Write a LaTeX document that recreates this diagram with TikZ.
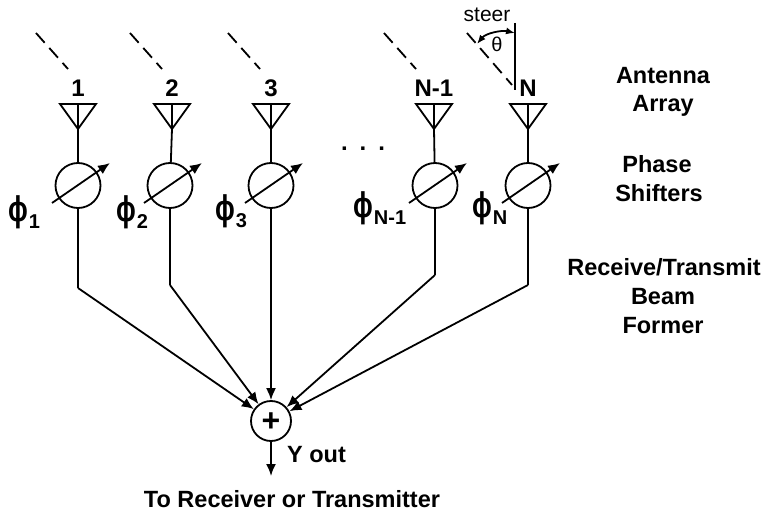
\documentclass[tikz,border=0pt]{standalone}
\usepackage{fontspec}
\setmainfont{Liberation Sans}
\usetikzlibrary{arrows.meta}

\tikzset{
    wire/.style={line width=1.8pt},
    tipped/.style={wire, -{Latex[length=12pt,width=10pt]}},
    shifter/.style={circle, draw, line width=1.8pt, minimum size=45pt, inner sep=0pt},
    summer/.style={circle, draw, line width=1.8pt, minimum size=40pt, inner sep=0pt},
    biglabel/.style={font=\fontsize{24}{26}\selectfont\bfseries, anchor=base},
    sidelabel/.style={font=\fontsize{23.5}{26}\selectfont\bfseries, anchor=base},
    wavefront/.style={wire, dash pattern=on 13pt off 7pt},
    philabel/.style={anchor=base west, inner sep=0pt, font=\bfseries},
}

\begin{document}
\begin{tikzpicture}[x=1pt, y=-1pt]
        \useasboundingbox (0,0) rectangle (765,513);

        \node[summer] (sum) at (271,421) {};
        \node[font=\fontsize{32}{32}\selectfont\bfseries] (plus) at (271,422) {+};

        \foreach \i/\x/\ax/\lab/\kneey/\phix/\phiy/\phisub in {
            1/78/78/1/288/8/221/1,
            2/170/172/2/285/116/221/2,
            3/271/271/3/288/215/220/3,
            4/435/434/N-1/275/353/217/N-1,
            5/528/528/N/285/472/217/N} {
                \node[biglabel] (lab\i) at (\ax,97) {\lab};
                \coordinate (apex\i) at (\ax,129);
                \draw[wire] (\ax-18,104) -- (\ax+18,104) -- (apex\i) -- cycle;
                \draw[wire] (\ax,104) -- (apex\i);
                \node[shifter] (ps\i) at (\x,185.5) {};
                \draw[wire] (apex\i) -- (ps\i);
                \coordinate (from\i) at (\x-26,203);
                \coordinate (to\i) at (\x+32,163);
                \draw[tipped] (from\i) -- (to\i);
                \coordinate (knee\i) at (\x,\kneey);
                \draw[wire] (ps\i) -- (knee\i);
                \draw[tipped] (knee\i) -- (sum);
                \node[philabel] (phi\i) at (\phix,\phiy) {\fontsize{31}{31}\selectfont\scalebox{.85}[1.15]{ϕ}\kern1pt\raisebox{-7pt}{\fontsize{20}{20}\selectfont\phisub}};
            }

        % dashed wavefronts
        \foreach \x in {36,130,228,384}
            \draw[wavefront] (\x,33) -- (\x+32,69);

        % steering angle at the last element
        \coordinate (steertop) at (515,23);
        \coordinate (steerbot) at (515,90);
        \coordinate (wavetop) at (467,33);
        \coordinate (wavebot) at (512,85);
        \draw[wire] (steertop) -- (steerbot);
        \draw[wavefront] (wavetop) -- (wavebot);
        \coordinate (arcleft) at (477,44);
        \coordinate (arcright) at (515,33);
        \draw[wire, {Latex[length=9pt,width=7pt]}-{Latex[length=9pt,width=7pt]}] (arcleft) .. controls (486,33) and (502,30) .. (arcright);
        \node[font=\fontsize{21}{22}\selectfont] (steer) at (487,15) {steer};
        \node[font=\fontsize{20}{22}\selectfont] (theta) at (497,44) {θ};

        \node[font=\fontsize{24}{26}\selectfont\bfseries] (dots) at (363,149) {.\hspace{12pt}.\hspace{12pt}.};

        \coordinate (outend) at (271,476);
        \draw[tipped] (sum) -- (outend);
        \node[sidelabel, anchor=base west, inner sep=0pt] (yout) at (287,462) {Y out};
        \node[sidelabel] (dest) at (292,507) {To Receiver or Transmitter};

        \node[sidelabel] (ant) at (663,84) {Antenna};
        \node[sidelabel] (arr) at (663,112) {Array};
        \node[sidelabel] (pha) at (657,172) {Phase};
        \node[sidelabel] (shi) at (659,201) {Shifters};
        \node[sidelabel] (rec) at (664,275) {Receive/Transmit};
        \node[sidelabel] (bea) at (663,304) {Beam};
        \node[sidelabel] (for) at (663,333) {Former};
    \end{tikzpicture}
\end{document}
